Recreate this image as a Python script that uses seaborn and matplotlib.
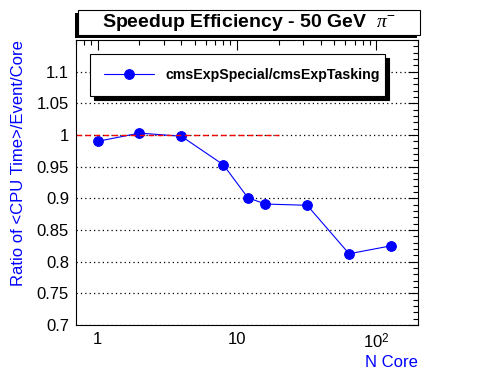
import numpy as np
import pandas as pd
import matplotlib
matplotlib.use('Agg')
import matplotlib.pyplot as plt
import matplotlib.ticker as mticker
from matplotlib.patches import Rectangle
import seaborn as sns

# values
n_core = [1, 2, 4, 8, 12, 16, 32, 64, 128]
ratio = [0.990, 1.003, 0.998, 0.953, 0.901, 0.891, 0.889, 0.8125, 0.825]
series_name = 'cmsExpSpecial/cmsExpTasking'
x_ticks = [1, 10, 100]
x_tick_labels = ['1', '10', '$10^{2}$']
y_ticks = [0.7, 0.75, 0.8, 0.85, 0.9, 0.95, 1.0, 1.05, 1.1]
y_tick_labels = ['0.7', '0.75', '0.8', '0.85', '0.9', '0.95', '1', '1.05', '1.1']
ref_line_x = [0.7, 20]
ref_line_y = [1.0, 1.0]
title = 'Speedup Efficiency - 50 GeV  $\\pi^{-}$'

df = pd.DataFrame({'N Core': n_core, 'ratio': ratio, 'series': series_name})

sns.set_style('white')
plt.rcParams['font.family'] = ['Liberation Sans', 'DejaVu Sans']
plt.rcParams['text.color'] = 'black'
plt.rcParams['mathtext.fontset'] = 'custom'
plt.rcParams['mathtext.rm'] = 'Liberation Sans'
plt.rcParams['mathtext.it'] = 'Liberation Serif:italic'

W, H = 496, 372
fig = plt.figure(figsize=(W / 100, H / 100), dpi=100)
ax = fig.add_axes([76 / W, 1 - 325 / H, 342 / W, 285 / H])

ax.set_xscale('log')
sns.lineplot(data=df, x='N Core', y='ratio', hue='series', palette=['blue'],
             marker='o', markersize=7, markeredgecolor='blue', linewidth=0.8,
             ax=ax)
ax.plot(ref_line_x, ref_line_y, color='#ff0000', linestyle=(0, (4, 2.5)), linewidth=1)

ax.set_xlim(0.7, 200)
ax.set_ylim(0.7, 1.15)

ax.xaxis.set_major_locator(mticker.FixedLocator(x_ticks))
ax.xaxis.set_major_formatter(mticker.FixedFormatter(x_tick_labels))
ax.xaxis.set_minor_locator(mticker.LogLocator(base=10, subs=np.arange(2, 10)))
ax.xaxis.set_minor_formatter(mticker.NullFormatter())
ax.yaxis.set_major_locator(mticker.FixedLocator(y_ticks))
ax.yaxis.set_major_formatter(mticker.FixedFormatter(y_tick_labels))
ax.yaxis.set_minor_locator(mticker.MultipleLocator(0.01))

ax.tick_params(which='both', direction='in', top=True, right=True,
               width=0.8, labelsize=12, colors='black')
ax.tick_params(which='major', length=7, pad=5)
ax.tick_params(which='minor', length=3.5)
ax.grid(axis='y', which='major', color='black', linestyle=(0, (1, 2.5)), linewidth=0.9)
ax.grid(axis='x', visible=False)
for s in ax.spines.values():
    s.set_color('black')
    s.set_linewidth(0.8)

ax.set_xlabel('N Core', color='blue', fontsize=12, loc='right', labelpad=3)
ax.set_ylabel('Ratio of <CPU Time>/Event/Core', color='blue', fontsize=12,
              loc='top', labelpad=8)

leg = ax.legend(loc='upper left', bbox_to_anchor=(0.041, 0.8, 0.862, 0.151),
                mode='expand', frameon=True, fancybox=False,
                shadow={'color': 'black', 'alpha': 1, 'ox': 3, 'oy': -3},
                prop={'weight': 'bold', 'size': 10.2}, borderpad=1.0,
                handlelength=3.5, handletextpad=0.8, borderaxespad=0)
leg.get_frame().set_edgecolor('black')
leg.get_frame().set_linewidth(0.8)

# title box with shadow
fig.patches.append(Rectangle((75 / W, 1 - 38 / H), 342 / W, 25 / H,
                             transform=fig.transFigure, facecolor='black',
                             edgecolor='none', zorder=1))
fig.patches.append(Rectangle((78 / W, 1 - 35 / H), 342 / W, 25 / H,
                             transform=fig.transFigure, facecolor='white',
                             edgecolor='black', linewidth=0.8, zorder=2))
fig.text(249 / W, 1 - 22.5 / H, title, ha='center', va='center',
         fontsize=14, fontweight='bold', color='black', zorder=3)

fig.savefig('out.png', dpi=100)
